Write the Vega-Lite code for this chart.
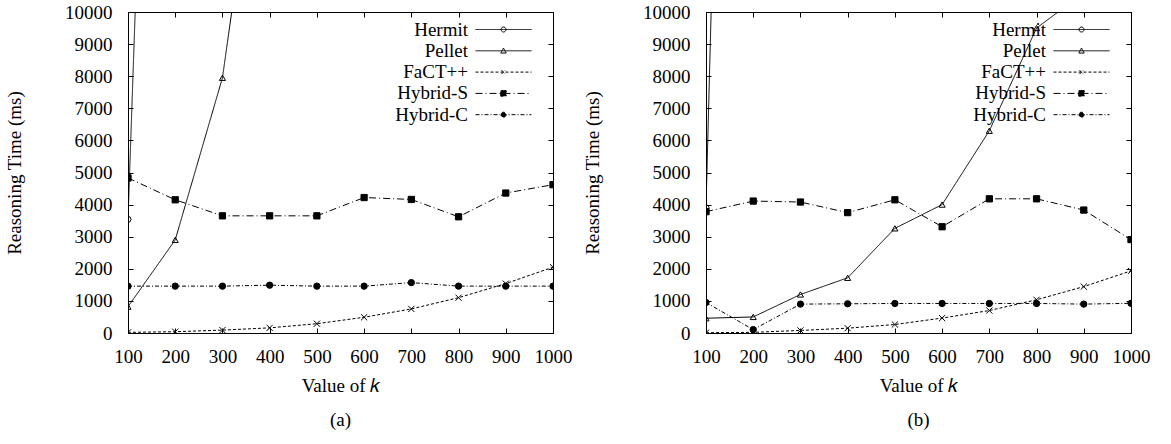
{
  "$schema": "https://vega.github.io/schema/vega-lite/v6.json",
  "padding": {"left": 5, "top": 2, "right": 5, "bottom": 2},
  "background": "white",
  "config": {
    "font": "Liberation Serif",
    "view": {"stroke": "black", "strokeWidth": 1},
    "axis": {"labelFont": "Liberation Serif", "titleFont": "Liberation Serif", "labelFontSize": 19, "titleFontSize": 19, "titleFontWeight": "normal", "labelColor": "black", "titleColor": "black", "domainColor": "black", "tickColor": "black", "grid": false, "tickSize": -5, "labelOverlap": false, "labelFlush": false},
    "title": {"font": "Liberation Serif", "fontSize": 19, "fontWeight": "normal", "color": "black"}
  },
  "data": {"values": [
    {"panel": "a", "series": "Hermit", "k": 100, "t": 3540},
    {"panel": "a", "series": "Hermit", "k": 200, "t": 46000},
    {"panel": "a", "series": "Pellet", "k": 100, "t": 820},
    {"panel": "a", "series": "Pellet", "k": 200, "t": 2900},
    {"panel": "a", "series": "Pellet", "k": 300, "t": 7950},
    {"panel": "a", "series": "Pellet", "k": 400, "t": 18400},
    {"panel": "a", "series": "FaCT++", "k": 100, "t": 20},
    {"panel": "a", "series": "FaCT++", "k": 200, "t": 40},
    {"panel": "a", "series": "FaCT++", "k": 300, "t": 90},
    {"panel": "a", "series": "FaCT++", "k": 400, "t": 160},
    {"panel": "a", "series": "FaCT++", "k": 500, "t": 290},
    {"panel": "a", "series": "FaCT++", "k": 600, "t": 490},
    {"panel": "a", "series": "FaCT++", "k": 700, "t": 750},
    {"panel": "a", "series": "FaCT++", "k": 800, "t": 1100},
    {"panel": "a", "series": "FaCT++", "k": 900, "t": 1540},
    {"panel": "a", "series": "FaCT++", "k": 1000, "t": 2050},
    {"panel": "a", "series": "Hybrid-S", "k": 100, "t": 4830},
    {"panel": "a", "series": "Hybrid-S", "k": 200, "t": 4150},
    {"panel": "a", "series": "Hybrid-S", "k": 300, "t": 3650},
    {"panel": "a", "series": "Hybrid-S", "k": 400, "t": 3650},
    {"panel": "a", "series": "Hybrid-S", "k": 500, "t": 3650},
    {"panel": "a", "series": "Hybrid-S", "k": 600, "t": 4220},
    {"panel": "a", "series": "Hybrid-S", "k": 700, "t": 4160},
    {"panel": "a", "series": "Hybrid-S", "k": 800, "t": 3620},
    {"panel": "a", "series": "Hybrid-S", "k": 900, "t": 4360},
    {"panel": "a", "series": "Hybrid-S", "k": 1000, "t": 4620},
    {"panel": "a", "series": "Hybrid-C", "k": 100, "t": 1460},
    {"panel": "a", "series": "Hybrid-C", "k": 200, "t": 1460},
    {"panel": "a", "series": "Hybrid-C", "k": 300, "t": 1460},
    {"panel": "a", "series": "Hybrid-C", "k": 400, "t": 1490},
    {"panel": "a", "series": "Hybrid-C", "k": 500, "t": 1460},
    {"panel": "a", "series": "Hybrid-C", "k": 600, "t": 1460},
    {"panel": "a", "series": "Hybrid-C", "k": 700, "t": 1570},
    {"panel": "a", "series": "Hybrid-C", "k": 800, "t": 1460},
    {"panel": "a", "series": "Hybrid-C", "k": 900, "t": 1460},
    {"panel": "a", "series": "Hybrid-C", "k": 1000, "t": 1460},
    {"panel": "b", "series": "Hermit", "k": 100, "t": 3900},
    {"panel": "b", "series": "Hermit", "k": 200, "t": 60000},
    {"panel": "b", "series": "Pellet", "k": 100, "t": 460},
    {"panel": "b", "series": "Pellet", "k": 200, "t": 500},
    {"panel": "b", "series": "Pellet", "k": 300, "t": 1200},
    {"panel": "b", "series": "Pellet", "k": 400, "t": 1720},
    {"panel": "b", "series": "Pellet", "k": 500, "t": 3260},
    {"panel": "b", "series": "Pellet", "k": 600, "t": 4000},
    {"panel": "b", "series": "Pellet", "k": 700, "t": 6300},
    {"panel": "b", "series": "Pellet", "k": 800, "t": 9500},
    {"panel": "b", "series": "Pellet", "k": 900, "t": 10600},
    {"panel": "b", "series": "FaCT++", "k": 100, "t": 10},
    {"panel": "b", "series": "FaCT++", "k": 200, "t": 20},
    {"panel": "b", "series": "FaCT++", "k": 300, "t": 80},
    {"panel": "b", "series": "FaCT++", "k": 400, "t": 150},
    {"panel": "b", "series": "FaCT++", "k": 500, "t": 265},
    {"panel": "b", "series": "FaCT++", "k": 600, "t": 465},
    {"panel": "b", "series": "FaCT++", "k": 700, "t": 700},
    {"panel": "b", "series": "FaCT++", "k": 800, "t": 1035},
    {"panel": "b", "series": "FaCT++", "k": 900, "t": 1445},
    {"panel": "b", "series": "FaCT++", "k": 1000, "t": 1935},
    {"panel": "b", "series": "Hybrid-S", "k": 100, "t": 3780},
    {"panel": "b", "series": "Hybrid-S", "k": 200, "t": 4110},
    {"panel": "b", "series": "Hybrid-S", "k": 300, "t": 4080},
    {"panel": "b", "series": "Hybrid-S", "k": 400, "t": 3750},
    {"panel": "b", "series": "Hybrid-S", "k": 500, "t": 4150},
    {"panel": "b", "series": "Hybrid-S", "k": 600, "t": 3310},
    {"panel": "b", "series": "Hybrid-S", "k": 700, "t": 4180},
    {"panel": "b", "series": "Hybrid-S", "k": 800, "t": 4180},
    {"panel": "b", "series": "Hybrid-S", "k": 900, "t": 3830},
    {"panel": "b", "series": "Hybrid-S", "k": 1000, "t": 2910},
    {"panel": "b", "series": "Hybrid-C", "k": 100, "t": 950},
    {"panel": "b", "series": "Hybrid-C", "k": 200, "t": 105},
    {"panel": "b", "series": "Hybrid-C", "k": 300, "t": 900},
    {"panel": "b", "series": "Hybrid-C", "k": 400, "t": 910},
    {"panel": "b", "series": "Hybrid-C", "k": 500, "t": 920},
    {"panel": "b", "series": "Hybrid-C", "k": 600, "t": 920},
    {"panel": "b", "series": "Hybrid-C", "k": 700, "t": 920},
    {"panel": "b", "series": "Hybrid-C", "k": 800, "t": 920},
    {"panel": "b", "series": "Hybrid-C", "k": 900, "t": 900},
    {"panel": "b", "series": "Hybrid-C", "k": 1000, "t": 925}
  ]},
  "spacing": 10,
  "resolve": {"legend": {"strokeDash": "independent"}, "scale": {"strokeDash": "independent"}},
  "hconcat": [
    {
      "width": 425, "height": 321,
      "title": {"text": "(a)", "orient": "bottom", "offset": 16},
      "transform": [{"filter": "datum.panel == 'a'"}],
      "layer": [
        {
          "mark": {"type": "line", "clip": true, "color": "black", "strokeWidth": 1},
          "encoding": {
            "x": {"field": "k", "type": "quantitative", "scale": {"domain": [100, 1000], "nice": false, "zero": false, "padding": 0}, "axis": {"orient": "bottom", "title": "Value of 𝑘", "values": [100, 200, 300, 400, 500, 600, 700, 800, 900, 1000], "format": "d", "labelPadding": 19, "titlePadding": 10}},
            "y": {"field": "t", "type": "quantitative", "scale": {"domain": [0, 10000], "nice": false, "zero": false, "padding": 0}, "axis": {"orient": "left", "title": "Reasoning Time (ms)", "values": [0, 1000, 2000, 3000, 4000, 5000, 6000, 7000, 8000, 9000, 10000], "format": "d", "labelPadding": 21, "titlePadding": 40}},
            "strokeDash": {"field": "series", "type": "nominal",
              "scale": {"domain": ["Hermit", "Pellet", "FaCT++", "Hybrid-S", "Hybrid-C"], "range": [[1, 0], [1, 0], [3, 2], [7, 3, 1, 3], [4, 2, 1, 2]]},
              "legend": {"title": null, "orient": "none", "legendX": 343, "legendY": 8, "padding": 0, "rowPadding": 1.3,
                "symbolSize": 100, "symbolStrokeWidth": 1, "symbolStrokeColor": "black", "symbolOffset": 23,
                "labelAlign": "right", "labelOffset": -45, "labelFont": "Liberation Serif", "labelFontSize": 19, "labelColor": "black", "labelLimit": 200,
                "encode": {"symbols": {"update": {
                  "shape": {"signal": "datum.value == 'Hermit' || datum.value == 'Hybrid-C' ? 'M-5.6,0H5.6M0.5,0A0.5,0.5,0,1,1,-0.5,0A0.5,0.5,0,1,1,0.5,0Z' : datum.value == 'Pellet' ? 'M-5.6,0H5.6M0,-0.55L0.55,0.45L-0.55,0.45Z' : datum.value == 'FaCT++' ? 'M-5.6,0H5.6M-0.4,-0.4L0.4,0.4M-0.4,0.4L0.4,-0.4' : 'M-5.6,0H5.6M-0.55,-0.55H0.55V0.55H-0.55Z'"},
                  "fill": {"signal": "datum.value == 'Hybrid-S' || datum.value == 'Hybrid-C' ? 'black' : 'transparent'"},
                  "stroke": {"value": "black"},
                  "opacity": {"value": 1}
                }}}
              }},
            "detail": {"field": "series"}
          }
        },
        {
          "mark": {"type": "point", "clip": true, "color": "black", "strokeWidth": 1, "opacity": 1},
          "encoding": {
            "x": {"field": "k", "type": "quantitative", "scale": {"domain": [100, 1000], "nice": false, "zero": false, "padding": 0}, "axis": {"orient": "top", "title": null, "labels": false, "values": [100, 200, 300, 400, 500, 600, 700, 800, 900, 1000]}},
            "y": {"field": "t", "type": "quantitative", "scale": {"domain": [0, 10000], "nice": false, "zero": false, "padding": 0}, "axis": {"orient": "right", "title": null, "labels": false, "values": [0, 1000, 2000, 3000, 4000, 5000, 6000, 7000, 8000, 9000, 10000]}},
            "shape": {"field": "series", "type": "nominal", "legend": null,
              "scale": {"domain": ["Hermit", "Pellet", "FaCT++", "Hybrid-S", "Hybrid-C"], "range": ["circle", "triangle-up", "M-1,-1L1,1M-1,1L1,-1", "square", "circle"]}},
            "fill": {"field": "series", "type": "nominal", "legend": null,
              "scale": {"domain": ["Hermit", "Pellet", "FaCT++", "Hybrid-S", "Hybrid-C"], "range": ["transparent", "transparent", "transparent", "black", "black"]}},
            "size": {"field": "series", "type": "nominal", "legend": null,
              "scale": {"domain": ["Hermit", "Pellet", "FaCT++", "Hybrid-S", "Hybrid-C"], "range": [36, 40, 30, 64, 36]}}
          }
        }
      ]
    },
    {
      "width": 425, "height": 321,
      "title": {"text": "(b)", "orient": "bottom", "offset": 16},
      "transform": [{"filter": "datum.panel == 'b'"}],
      "layer": [
        {
          "mark": {"type": "line", "clip": true, "color": "black", "strokeWidth": 1},
          "encoding": {
            "x": {"field": "k", "type": "quantitative", "scale": {"domain": [100, 1000], "nice": false, "zero": false, "padding": 0}, "axis": {"orient": "bottom", "title": "Value of 𝑘", "values": [100, 200, 300, 400, 500, 600, 700, 800, 900, 1000], "format": "d", "labelPadding": 19, "titlePadding": 10}},
            "y": {"field": "t", "type": "quantitative", "scale": {"domain": [0, 10000], "nice": false, "zero": false, "padding": 0}, "axis": {"orient": "left", "title": "Reasoning Time (ms)", "values": [0, 1000, 2000, 3000, 4000, 5000, 6000, 7000, 8000, 9000, 10000], "format": "d", "labelPadding": 21, "titlePadding": 40}},
            "strokeDash": {"field": "series", "type": "nominal",
              "scale": {"domain": ["Hermit", "Pellet", "FaCT++", "Hybrid-S", "Hybrid-C"], "range": [[1, 0], [1, 0], [3, 2], [7, 3, 1, 3], [4, 2, 1, 2]]},
              "legend": {"title": null, "orient": "none", "legendX": 343, "legendY": 8, "padding": 0, "rowPadding": 1.3,
                "symbolSize": 100, "symbolStrokeWidth": 1, "symbolStrokeColor": "black", "symbolOffset": 23,
                "labelAlign": "right", "labelOffset": -45, "labelFont": "Liberation Serif", "labelFontSize": 19, "labelColor": "black", "labelLimit": 200,
                "encode": {"symbols": {"update": {
                  "shape": {"signal": "datum.value == 'Hermit' || datum.value == 'Hybrid-C' ? 'M-5.6,0H5.6M0.5,0A0.5,0.5,0,1,1,-0.5,0A0.5,0.5,0,1,1,0.5,0Z' : datum.value == 'Pellet' ? 'M-5.6,0H5.6M0,-0.55L0.55,0.45L-0.55,0.45Z' : datum.value == 'FaCT++' ? 'M-5.6,0H5.6M-0.4,-0.4L0.4,0.4M-0.4,0.4L0.4,-0.4' : 'M-5.6,0H5.6M-0.55,-0.55H0.55V0.55H-0.55Z'"},
                  "fill": {"signal": "datum.value == 'Hybrid-S' || datum.value == 'Hybrid-C' ? 'black' : 'transparent'"},
                  "stroke": {"value": "black"},
                  "opacity": {"value": 1}
                }}}
              }},
            "detail": {"field": "series"}
          }
        },
        {
          "mark": {"type": "point", "clip": true, "color": "black", "strokeWidth": 1, "opacity": 1},
          "encoding": {
            "x": {"field": "k", "type": "quantitative", "scale": {"domain": [100, 1000], "nice": false, "zero": false, "padding": 0}, "axis": {"orient": "top", "title": null, "labels": false, "values": [100, 200, 300, 400, 500, 600, 700, 800, 900, 1000]}},
            "y": {"field": "t", "type": "quantitative", "scale": {"domain": [0, 10000], "nice": false, "zero": false, "padding": 0}, "axis": {"orient": "right", "title": null, "labels": false, "values": [0, 1000, 2000, 3000, 4000, 5000, 6000, 7000, 8000, 9000, 10000]}},
            "shape": {"field": "series", "type": "nominal", "legend": null,
              "scale": {"domain": ["Hermit", "Pellet", "FaCT++", "Hybrid-S", "Hybrid-C"], "range": ["circle", "triangle-up", "M-1,-1L1,1M-1,1L1,-1", "square", "circle"]}},
            "fill": {"field": "series", "type": "nominal", "legend": null,
              "scale": {"domain": ["Hermit", "Pellet", "FaCT++", "Hybrid-S", "Hybrid-C"], "range": ["transparent", "transparent", "transparent", "black", "black"]}},
            "size": {"field": "series", "type": "nominal", "legend": null,
              "scale": {"domain": ["Hermit", "Pellet", "FaCT++", "Hybrid-S", "Hybrid-C"], "range": [36, 40, 30, 64, 36]}}
          }
        }
      ]
    }
  ]
}
